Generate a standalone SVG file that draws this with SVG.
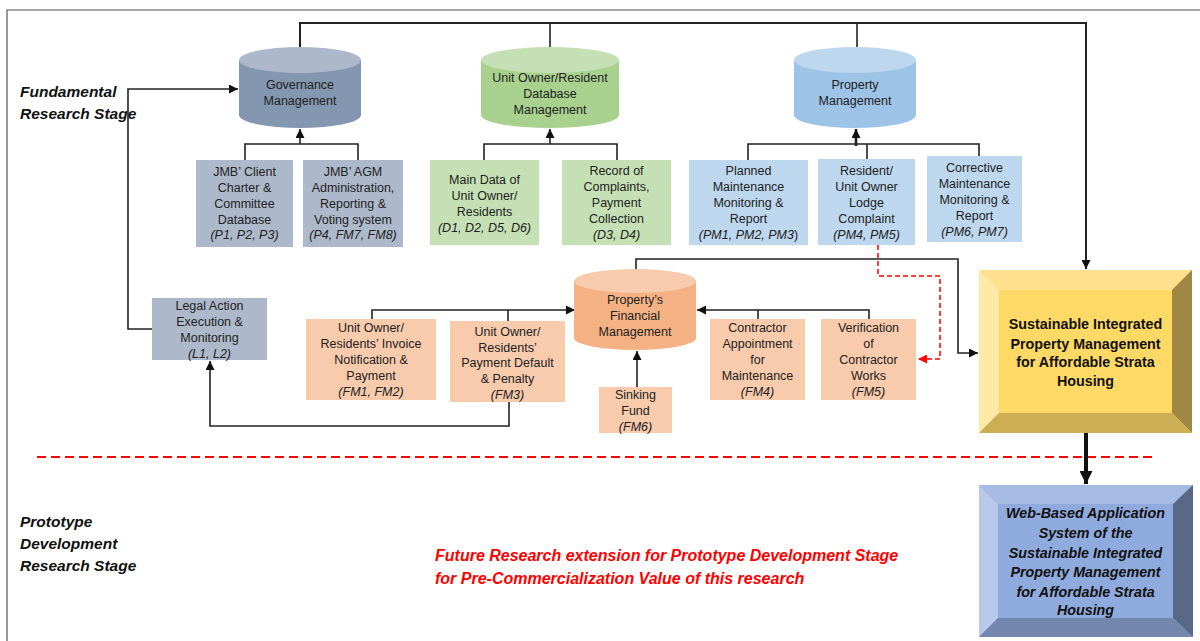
<svg xmlns="http://www.w3.org/2000/svg" width="1200" height="641" viewBox="0 0 1200 641">
<defs>
<style>
.t{font-family:"Liberation Sans",Arial,sans-serif;font-size:12.5px;fill:#222;text-anchor:middle}
.i{font-style:italic}
.stage{font-family:"Liberation Sans",Arial,sans-serif;font-size:15.5px;font-weight:bold;font-style:italic;fill:#111}
.big{font-family:"Liberation Sans",Arial,sans-serif;font-size:14.3px;font-weight:bold;fill:#111;text-anchor:middle}
.red{font-family:"Liberation Sans",Arial,sans-serif;font-size:16px;font-weight:bold;font-style:italic;fill:#ff0000}
.ln{fill:none;stroke:#222;stroke-width:1.6}
.gb{fill:#ADB9CA}.gc{fill:#8497B0}
.ub{fill:#C5E0B4}.uc{fill:#A9D18E}
.pb{fill:#BDD7EE}.pc{fill:#9DC3E6}
.fb{fill:#F8CBAD}.fc{fill:#F4B183}
</style>
<marker id="ah" viewBox="0 0 10 10" refX="10" refY="5" markerWidth="9" markerHeight="9" markerUnits="userSpaceOnUse" orient="auto"><path d="M0,0 L10,5 L0,10 z" fill="#111"/></marker>
<marker id="ahb" viewBox="0 0 10 10" refX="10" refY="5" markerWidth="13" markerHeight="13" markerUnits="userSpaceOnUse" orient="auto"><path d="M0,0 L10,5 L0,10 z" fill="#111"/></marker>
<marker id="ahr" viewBox="0 0 10 10" refX="10" refY="5" markerWidth="9" markerHeight="9" markerUnits="userSpaceOnUse" orient="auto"><path d="M0,0 L10,5 L0,10 z" fill="#ff0000"/></marker>
</defs>
<rect width="1200" height="641" fill="#fff"/>
<path d="M7,641 V10 H1200" fill="none" stroke="#555" stroke-width="1.2"/>

<text class="stage" x="20" y="97">Fundamental</text>
<text class="stage" x="20" y="119">Research Stage</text>
<text class="stage" x="20" y="527">Prototype</text>
<text class="stage" x="20" y="549">Development</text>
<text class="stage" x="20" y="571">Research Stage</text>
<text class="red" x="435" y="561">Future Research extension for Prototype Development Stage</text>
<text class="red" x="435" y="584">for Pre-Commercialization Value of this research</text>
<path d="M37,457 H1152" fill="none" stroke="#ff0000" stroke-width="2.2" stroke-dasharray="9 5"/>

<g id="connectors">
<path class="ln" d="M300,47 V23 H1086 V269" style="stroke-width:2" marker-end="url(#ah)"/>
<path class="ln" d="M550,47 V23"/>
<path class="ln" d="M857,47 V23"/>
<path class="ln" d="M245,160 V144 H358 V160"/>
<path class="ln" d="M300,144 V129" marker-end="url(#ah)"/>
<path class="ln" d="M484,160 V144 H617 V160"/>
<path class="ln" d="M550,144 V129" marker-end="url(#ah)"/>
<path class="ln" d="M748,160 V144 H979 V156"/>
<path class="ln" d="M867,144 V159"/>
<path class="ln" d="M856,146 V129" style="stroke-width:2.6" marker-end="url(#ah)"/>
<path class="ln" d="M152,329 H128 V89 H238" marker-end="url(#ah)"/>
<path class="ln" d="M372,319 V310 H575" marker-end="url(#ah)"/>
<path class="ln" d="M508,321 V310"/>
<path class="ln" d="M758,319 V310"/>
<path class="ln" d="M869,319 V310 H697" marker-end="url(#ah)"/>
<path class="ln" d="M637,387 V351" marker-end="url(#ah)"/>
<path class="ln" d="M509,402 V426 H210 V361" marker-end="url(#ah)"/>
<path class="ln" d="M636,269 V259 H958 V353 H978" marker-end="url(#ah)"/>
<path class="ln" d="M1086,433 V484" style="stroke-width:4;stroke:#111" marker-end="url(#ahb)"/>
<path d="M878,245 V276 H940 V359 H918" fill="none" stroke="#ff0000" stroke-width="1.5" stroke-dasharray="5 3" marker-end="url(#ahr)"/>
</g>

<g id="governance">
<path class="gc" d="M239,60 V115 A61,13 0 0 0 361,115 V60 Z"/>
<ellipse class="gb" cx="300" cy="60" rx="61" ry="13"/>
<text class="t" x="300" y="88.5">Governance</text>
<text class="t" x="300" y="104.5">Management</text>
</g>
<g id="jmb-client">
<rect class="gb" x="196" y="160" width="97" height="87"/>
<text class="t" x="244.5" y="175.5">JMB’ Client</text>
<text class="t" x="244.5" y="191.5">Charter &amp;</text>
<text class="t" x="244.5" y="207.5">Committee</text>
<text class="t" x="244.5" y="223.5">Database</text>
<text class="t i" x="244.5" y="238.5">(P1, P2, P3)</text>
</g>
<g id="jmb-agm">
<rect class="gb" x="303" y="160" width="100" height="87"/>
<text class="t" x="353" y="175.5">JMB’ AGM</text>
<text class="t" x="353" y="191.5">Administration,</text>
<text class="t" x="353" y="207.5">Reporting &amp;</text>
<text class="t" x="353" y="223.5">Voting system</text>
<text class="t i" x="353" y="238.5">(P4, FM7, FM8)</text>
</g>

<g id="unit-owner-db">
<path class="uc" d="M481,60 V115 A69,13 0 0 0 619,115 V60 Z"/>
<ellipse class="ub" cx="550" cy="60" rx="69" ry="13"/>
<text class="t" x="550" y="81.5">Unit Owner/Resident</text>
<text class="t" x="550" y="97.5">Database</text>
<text class="t" x="550" y="114">Management</text>
</g>
<g id="main-data">
<rect class="ub" x="430" y="160" width="109" height="85"/>
<text class="t" x="484.5" y="183.5">Main Data of</text>
<text class="t" x="484.5" y="199.5">Unit Owner/</text>
<text class="t" x="484.5" y="215.5">Residents</text>
<text class="t i" x="484.5" y="231.5">(D1, D2, D5, D6)</text>
</g>
<g id="record-complaints">
<rect class="ub" x="562" y="160" width="109" height="85"/>
<text class="t" x="616.5" y="174.5">Record of</text>
<text class="t" x="616.5" y="190.5">Complaints,</text>
<text class="t" x="616.5" y="206.5">Payment</text>
<text class="t" x="616.5" y="222.5">Collection</text>
<text class="t i" x="616.5" y="238.5">(D3, D4)</text>
</g>

<g id="property-mgmt">
<path class="pc" d="M794,60 V115 A61,13 0 0 0 916,115 V60 Z"/>
<ellipse class="pb" cx="855" cy="60" rx="61" ry="13"/>
<text class="t" x="855" y="88.5">Property</text>
<text class="t" x="855" y="104.5">Management</text>
</g>
<g id="planned-maint">
<rect class="pb" x="689" y="160" width="119" height="85"/>
<text class="t" x="748.5" y="174.5">Planned</text>
<text class="t" x="748.5" y="190.5">Maintenance</text>
<text class="t" x="748.5" y="206.5">Monitoring &amp;</text>
<text class="t" x="748.5" y="222.5">Report</text>
<text class="t" x="748.5" y="238.5"><tspan class="i">(PM1, PM2, PM3</tspan>)</text>
</g>
<g id="lodge-complaint">
<rect class="pb" x="818" y="159" width="97" height="86"/>
<text class="t" x="866.5" y="174.5">Resident/</text>
<text class="t" x="866.5" y="190.5">Unit Owner</text>
<text class="t" x="866.5" y="206.5">Lodge</text>
<text class="t" x="866.5" y="222.5">Complaint</text>
<text class="t i" x="866.5" y="238.5">(PM4, PM5)</text>
</g>
<g id="corrective-maint">
<rect class="pb" x="927" y="156" width="95" height="86"/>
<text class="t" x="974.5" y="171.5">Corrective</text>
<text class="t" x="974.5" y="187.5">Maintenance</text>
<text class="t" x="974.5" y="203.5">Monitoring &amp;</text>
<text class="t" x="974.5" y="219.5">Report</text>
<text class="t i" x="974.5" y="235.5">(PM6, PM7)</text>
</g>

<g id="legal-action">
<rect class="gb" x="152" y="298" width="115" height="62"/>
<text class="t" x="209.5" y="309.5">Legal Action</text>
<text class="t" x="209.5" y="325.5">Execution &amp;</text>
<text class="t" x="209.5" y="341.5">Monitoring</text>
<text class="t i" x="209.5" y="357.5">(L1, L2)</text>
</g>

<g id="financial-mgmt">
<path class="fc" d="M574,281 V338 A61,12 0 0 0 696,338 V281 Z"/>
<ellipse class="fb" cx="635" cy="281" rx="61" ry="12"/>
<text class="t" x="635" y="303.5">Property’s</text>
<text class="t" x="635" y="319.5">Financial</text>
<text class="t" x="635" y="335.5">Management</text>
</g>
<g id="invoice">
<rect class="fb" x="306" y="319" width="130" height="81"/>
<text class="t" x="371" y="331.5">Unit Owner/</text>
<text class="t" x="371" y="347.5">Residents’ Invoice</text>
<text class="t" x="371" y="363.5">Notification &amp;</text>
<text class="t" x="371" y="379.5">Payment</text>
<text class="t i" x="371" y="395.5">(FM1, FM2)</text>
</g>
<g id="payment-default">
<rect class="fb" x="450" y="321" width="115" height="81"/>
<text class="t" x="507.5" y="335.5">Unit Owner/</text>
<text class="t" x="507.5" y="351.5">Residents’</text>
<text class="t" x="507.5" y="366.5">Payment Default</text>
<text class="t" x="507.5" y="382.5">&amp; Penalty</text>
<text class="t i" x="507.5" y="399">(FM3)</text>
</g>
<g id="sinking-fund">
<rect class="fb" x="599" y="387" width="73" height="46"/>
<text class="t" x="635.5" y="398.5">Sinking</text>
<text class="t" x="635.5" y="414.5">Fund</text>
<text class="t i" x="635.5" y="430.5">(FM6)</text>
</g>
<g id="contractor-appointment">
<rect class="fb" x="710" y="319" width="95" height="81"/>
<text class="t" x="757.5" y="331.5">Contractor</text>
<text class="t" x="757.5" y="347.5">Appointment</text>
<text class="t" x="757.5" y="363.5">for</text>
<text class="t" x="757.5" y="379.5">Maintenance</text>
<text class="t i" x="757.5" y="395.5">(FM4)</text>
</g>
<g id="verification">
<rect class="fb" x="821" y="319" width="95" height="81"/>
<text class="t" x="868.5" y="331.5">Verification</text>
<text class="t" x="868.5" y="347.5">of</text>
<text class="t" x="868.5" y="363.5">Contractor</text>
<text class="t" x="868.5" y="379.5">Works</text>
<text class="t i" x="868.5" y="395.5">(FM5)</text>
</g>

<g id="sustainable">
<rect x="979" y="270" width="213" height="163" fill="#FFD966"/>
<polygon points="979,270 1192,270 1172,290 999,290" fill="#FFE08F"/>
<polygon points="979,270 999,290 999,413 979,433" fill="#FFE9A6"/>
<polygon points="1192,270 1192,433 1172,413 1172,290" fill="#9E8843"/>
<polygon points="979,433 999,413 1172,413 1192,433" fill="#CCAE55"/>
<text class="big" x="1085.5" y="329">Sustainable Integrated</text>
<text class="big" x="1085.5" y="349">Property Management</text>
<text class="big" x="1085.5" y="367">for Affordable Strata</text>
<text class="big" x="1085.5" y="386">Housing</text>
</g>

<g id="web-based">
<rect x="979" y="485" width="214" height="152" fill="#8FAADC"/>
<polygon points="979,485 1193,485 1173,504 998,504" fill="#A6BBE3"/>
<polygon points="979,485 998,504 998,618 979,637" fill="#B7C8E8"/>
<polygon points="1193,485 1193,637 1173,618 1173,504" fill="#5A6888"/>
<polygon points="979,637 998,618 1173,618 1193,637" fill="#7487AE"/>
<text class="big i" x="1085.5" y="518">Web-Based Application</text>
<text class="big i" x="1085.5" y="538">System of the</text>
<text class="big i" x="1085.5" y="558">Sustainable Integrated</text>
<text class="big i" x="1085.5" y="577">Property Management</text>
<text class="big i" x="1085.5" y="597">for Affordable Strata</text>
<text class="big i" x="1085.5" y="615">Housing</text>
</g>
</svg>
